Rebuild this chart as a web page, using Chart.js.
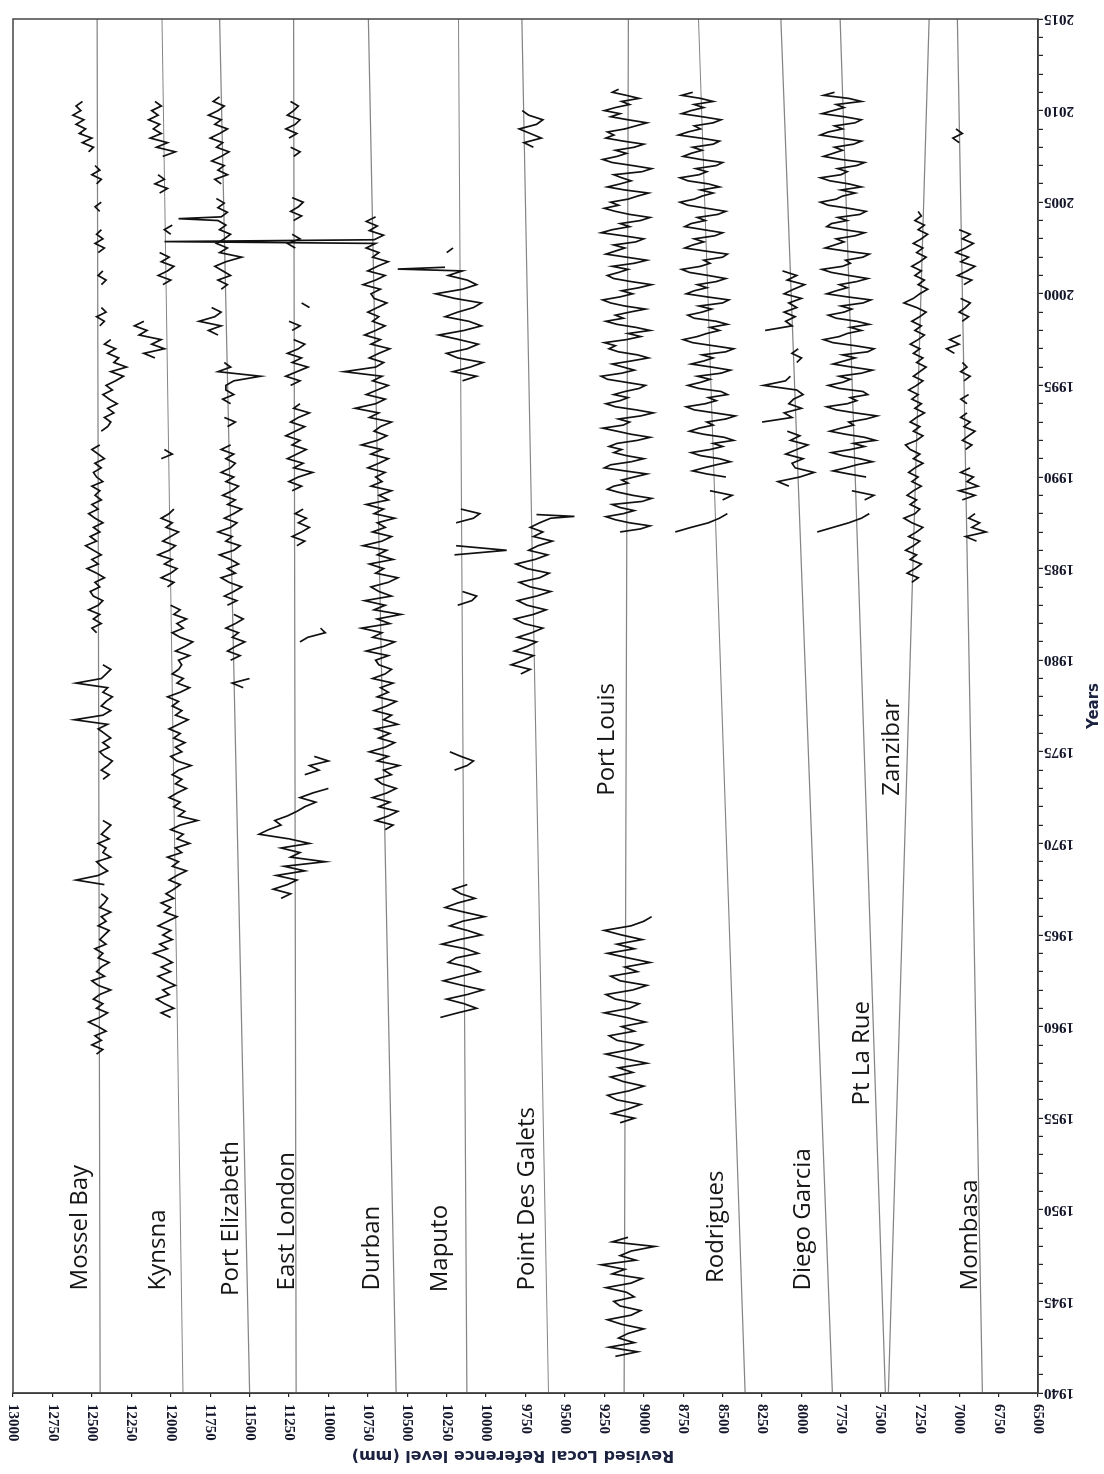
<!DOCTYPE html>
<html>
<head>
<meta charset="utf-8">
<title>Revised Local Reference level by station</title>
<script src="https://cdn.jsdelivr.net/npm/chart.js@4.4.1/dist/chart.umd.min.js"></script>
<style>
  html, body { margin: 0; padding: 0; background: #fff; overflow: hidden; }
  body { width: 1104px; height: 1474px; position: relative; }
  /* the plot is laid out landscape, then turned a quarter circle to stand upright */
  #frame { position: absolute; left: 0; top: 0; width: 1474px; height: 1104px;
           transform-origin: 0 0; transform: translate(0, 1474px) rotate(-90deg); }
</style>
</head>
<body>
<div id="frame"><canvas id="c" width="1474" height="1104"></canvas></div>
<script>
// ---- axis ranges and tick values ----
const yearTicks = [1940, 1945, 1950, 1955, 1960, 1965, 1970, 1975, 1980, 1985, 1990, 1995, 2000, 2005, 2010, 2015];
const levelTicks = [6500, 6750, 7000, 7250, 7500, 7750, 8000, 8250, 8500, 8750, 9000, 9250, 9500, 9750, 10000,
                    10250, 10500, 10750, 11000, 11250, 11500, 11750, 12000, 12250, 12500, 12750, 13000];

// ---- stations ----
const stations = ['Mossel Bay', 'Kynsna', 'Port Elizabeth', 'East London', 'Durban', 'Maputo', 'Point Des Galets',
                  'Port Louis', 'Rodrigues', 'Diego Garcia', 'Pt La Rue', 'Zanzibar', 'Mombasa'];

// linear trend of each record: level (mm) in 1940 and in 2015
const trend1940 = [12447, 11922, 11500, 11204, 10570, 10122, 9604, 9124, 8357, 7804, 7468, 7449, 6853];
const trend2015 = [12467, 12055, 11690, 11221, 10747, 10175, 9773, 9097, 8653, 8131, 7755, 7190, 7011];

// ---- sea levels (mm); each piece is [first year, values, step in years (quarterly if left out)] ----
const QUARTER = 0.25;
const BIMONTH = 1 / 6;

const mosselBay = [
  [1958.5, [12470,12430,12500,12440,12480,12410,12460,12520,12450,12400,12470,12430,12490,12450,12380,12460,12500,12420,
            12470,12440,12390,12460,12430,12480,12410,12450,12420,12390,12460,12410,12440,12380,12450,12420,12400,12440]],
  [1967.75, [12420,12600,12460,12400,12440,12470,12380,12430,12410,12460,12390,12440,12410,12380,12430]],
  [1973.5, [12430,12390,12440,12400,12370,12420,12450,12390,12430,12380,12420,12460,12400,12610,12430,12380,12440,12410,
            12370,12430,12400,12600,12440,12410,12380,12430]],
  [1981.5, [12470,12500,12440,12490,12450,12520,12460,12430,12490,12510,12450,12480,12420,12470,12530,12460,12500,12440,
            12490,12540,12470,12510,12450,12490,12430,12480,12520,12460,12500,12440,12480,12450,12500,12430,12470,12490,
            12440,12480,12420,12460,12500,12450]],
  [1992.5, [12440,12400,12380,12420,12360,12400,12340,12390,12430,12370,12410,12350,12300,12380,12280,12360,12330,12400,
            12350,12420,12380]],
  [1998.25, [12450,12420,12470,12410,12440]],
  [2000.5, [12440,12410,12460,12430]],
  [2002.25, [12460,12420,12480,12430,12470,12440]],
  [2004.5, [12450,12480,12440]],
  [2006.0, [12470,12440,12500,12450,12480]],
  [2007.75, [12520,12490,12560,12500,12580,12540,12600,12550,12620,12570,12600,12560]]
];

const kynsna = [
  [1960.5, [12000,12060,11980,12040,12090,12010,12050,11970,12030,12080,12000,12060,11990,12040,12110,12020,12070,11990,
            12050,12000,12080,12020,11960,12040,12000,12060,11980,12030,
            11980,11940,12010,11960,11900,11990,11950,12020,11930,11970,11880,11960,11920,12000,11940,11830,11950,11910,
            11980,11940,12010,11960,11900,11970,11930,11990,11950,11870,11960,12000,11930,11970,11910,11980,11940,12010,
            11950,11890,11970,11930,11990,11950,12020,11940,11880,11960,11920,11990,11950,11930]],
  [1980.0, [11950,11880,11970,11910,11860,11940,11990,11920,11960,11900,11980,11940,12000]],
  [1984.0, [12020,11980,12060,12000,11960,12040,11990,12080,12010,11970,12050,12000,11950,12030,11990,12060,12010,11980]],
  [1991.0, [12060,11990,12040]],
  [1996.5, [12100,12170,12040,12120,12060]],
  [1997.75, [12200,12150,12230,12170]],
  [2000.5, [12050,12000,12080,12020,11980,12060,12010,12070]],
  [2003.25, [12000,12040,11990]],
  [2005.5, [12070,12020,12100,12040,12080]],
  [2007.5, [12050,11970,12090,12020,12130,12060,12110,12070,12140,12080,12120,12060,12100]]
];

const portElizabeth = [
  [1978.5, [11540,11610,11500]],
  [1980.0, [11620,11560,11640,11590,11530,11610,11570,11650,11590,11540,11600]],
  [1983.0, [11640,11580,11660,11600,11550,11630,11680,11590,11640,11570,11620,11690,11600,11560,11650,11610,11700,11620,
            11580,11660,11600,11550,11640,11590,11670,11610,11570,11650,11600,11680,11620,11590]],
  [1991.0, [11650,11600,11680,11620]],
  [1992.75, [11640,11590,11660]],
  [1994.0, [11620,11670,11600,11650]],
  [1995.0, [11650,11600,11430,11700,11620,11660]],
  [1997.75, [11700,11760,11680,11820,11720,11680,11740]],
  [2000.25, [11680,11640,11700,11620,11670,11720,11650,11550,11690,11640,11710,11660,11620,11690,11650,11700]],
  [2004.1, [11950]],
  [2004.2, [11680,11640,11700,11660,11710]],
  [2006.0, [11680,11720,11640,11700,11660,11740,11680,11630,11710,11670,11750,11690,11640,11720,11680,11760,11700,11660,
            11730,11690]]
];

const eastLondon = [
  [1967.0, [11300,11240,11350,11260,11200,11330,11150,11280,11020,11240,11180,11300,11120,11250,11440,11380,11300,11340,
            11260,11200,11150,11080,11180,11100,11000]],
  [1973.75, [11150,11060,11120,11000,11090]],
  [1981.0, [11180,11130,11020,11050]],
  [1986.25, [11200,11150,11230,11170,11120,11190,11140,11210,11160]],
  [1989.25, [11230,11170,11250,11190,11100,11220,11160,11260,11200,11140,11230,11180,11270,11210,11150,11240,11190,11120,
             11220,11180]],
  [1995.0, [11240,11180,11270,11200,11130,11230,11170,11260,11190,11150,11220]],
  [1998.0, [11230,11180,11250]],
  [1999.25, [11120,11170]],
  [2002.5, [11210,11260,11180,11230]],
  [2004.0, [11220,11170,11240,11190,11160,11230]],
  [2007.5, [11220,11180,11240]],
  [2008.5, [11250,11200,11270,11210,11180,11260,11220,11190,11240]]
];

const durban = [
  [1970.75, [10640,10590,10700,10620,10560,10680,10610,10720,10630,10570,10660,10700,10600,10650,10550,10690,10620,10740,
             10640,10580,10680,10610,10700,10560,10650,10600,10710,10630,10570,10690,10620,10670,10590,10720,10640,10600,
             10680,
             10700,10620,10760,10650,10580,10720,10660,10790,10610,10690,10540,10710,10640,10770,10600,10680,10730,10620,
             10560,10700,10650,10740,10590,10690,10630,10780,10660,10600,10720,10640,10690,10580,10710,10650,10760,10620,
             10680,10600,10730,10660,
             10700,10640,10750,10680,10620,10730,10660,10790,10690,10630,10710,10670,10600,10740,10680,10830,10700,10640,
             10760,10690,10620,10720,10660,10900,10700,10650,10740,10680,10610,10730,10670,10770,10700,10640,10720,10680,
             10750,10690,10630,10710,
             10730,10670,10780,10700,10640,10750,10690,10620,10720,10680,10760,10700]],
  [2002.85, [12040]],
  [2002.95, [10710,10650,10740,10690,10760,10700]]
];

const maputo = [
  [1960.5, [10290,10180,10060,10140,10250,10120,10020,10150,10270,10160,10040,10110,10240,10190,10050,10130,10280,10170,
            10030,10120,10230,10150,10010,10140,10260,10180,10070,10160,10210,10120]],
  [1974.0, [10200,10120,10080,10160,10230]],
  [1983.0, [10180,10090,10060,10150]],
  [1985.75, [10200,9870,10190]],
  [1987.5, [10190,10080,10040,10160]],
  [1995.25, [10150,10060,10210,10100,10020,10180,10250,10120,10050,10170,10300,10140,10030,10110,10260,10180,10080,10030,
             10200,10320,10150,10060,10120,10240,10150]],
  [2001.35, [10560]],
  [2001.45, [10260]],
  [2002.25, [10250,10210]]
];

const pointDesGalets = [
  [1979.25, [9780,9720,9840,9760,9700,9820,9740,9680,9800,9710,9640,9760,9820,9700,9620,9740,9800,9680,9590,9720,9790,
             9660,9600,9740,9810,9690,9610,9730,9670,9580,9700,9640,9720,9660,9590]],
  [1987.85, [9440]],
  [1987.95, [9680]],
  [2008.0, [9700,9760,9650,9720,9790,9680,9640,9730,9770]]
];

const portLouis = [
  [1942.0, [9180,9040,9220,9060,9160,9100,9000,9140,9230,9080,9020,9150,9190,9060,9110,9240,9080,9010,9200,9120,9270,
            9050,9150,9080,8930,9200,9100]],
  [1954.75, [9150,9060,9200,9100,9020,9170,9230,9090,9000,9130,9210,9070,9160,8980,9120,9240,9080,9010,9170,9220,9060,
             9140,8990,9110,9250,9090,9030,9180,9240,9070,8980,9150,9210,9040,9120,8960,9100,9230,9060,9170,9010,9140,
             9250,9080,9000,8950]],
  [1987.0, [9150,9020,8960,9090,9180,9240,9130,9060,9150,9200,9010,8950,9070,9160,9230,
            9190,9100,9140,9060,8980,9120,9250,9210,9080,9000,9110,9190,9140,9220,9170,
            9040,8960,9080,9170,9260,9130,9090,9160,9020,8940,9050,9180,9240,9150,9100,
            9190,9120,9030,8990,9110,9230,9270,9140,9060,9130,9200,9080,8970,9040,9160,
            9220,9180,9250,9110,9020,9100,8960,9050,9170,9240,9130,9180,9090,8990,9120,
            9210,9260,9150,9070,9140,9030,8950,9080,9190,9230,9160,9100,9200,9060,8980,
            9110,9240,9180,9120,9190,9050,9000,9130,9270,9200,9090,9150,9020,8960,9090,
            9180,9250,9160,9210,9100,9040,8970,9120,9230,9150,9080,9140,9190,9010,8950,
            9070,9200,9260,9170,9110,9180,9060,9000,9130,9240,9190,9230,9120,9050,8980,
            9100,9210,9150,9250,9180,9090,9140,9030,9110,9200,9160], BIMONTH]
];

const rodrigues = [
  [1987.0, [8800,8700,8590,8520,8470]],
  [1988.75, [8500,8440,8580]],
  [1990.0, [8480,8600,8690,8620,8540,8450,8520,8640,8700,8580,8500,8560,8430,8490,8620,
            8710,8650,8560,8600,8480,8420,8550,8680,8730,8610,8540,8590,8470,8510,8650,
            8720,8640,8580,8660,8510,8450,8570,8700,8620,8560,8630,8480,8430,8560,8690,
            8750,8660,8600,8520,8580,8470,8540,8680,8720,8630,8570,8650,8500,8460,8600,
            8730,8680,8600,8660,8540,8480,8590,8710,8760,8640,8580,8620,8500,8470,8610,
            8740,8690,8620,8680,8550,8500,8620,8740,8700,8610,8660,8530,8480,8600,8720,
            8770,8680,8630,8560,8640,8520,8590,8720,8770,8650,8600,8670,8540,8500,8640,
            8750,8700,8630,8690,8560,8520,8640,8780,8720,8640,8680,8560,8510,8630,8760,
            8700,8620,8680,8560,8640,8760,8690], BIMONTH]
];

const diegoGarcia = [
  [1989.5, [8080,8150,8010,7920,8040]],
  [1990.75, [8060,7990,8100,8030,7960,8070,8010,8090]],
  [1993.0, [8250,8060,8110,8000,8080]],
  [1994.25, [8050,7990,8030]],
  [1995.0, [8240,8100,8070]],
  [1996.25, [8030,8000]],
  [1996.75, [8060,8020]],
  [1998.0, [8230,8060,8100,8040,8110,8030]],
  [1999.5, [8080,8000,8110,8050,7980,8090,8030,8120]]
];

const ptLaRue = [
  [1987.0, [7900,7800,7700,7620,7570]],
  [1988.75, [7600,7540,7680]],
  [1990.0, [7590,7700,7800,7720,7650,7550,7630,7740,7810,7690,7600,7670,7530,7600,7720,
            7820,7750,7670,7700,7590,7520,7660,7780,7840,7710,7650,7690,7580,7610,7760,
            7830,7740,7690,7760,7620,7550,7680,7800,7730,7660,7740,7580,7540,7660,7800,
            7860,7760,7710,7620,7690,7570,7650,7780,7830,7730,7680,7750,7610,7560,7710,
            7840,7780,7710,7760,7650,7580,7700,7810,7870,7740,7690,7720,7610,7570,7720,
            7850,7790,7730,7780,7660,7600,7730,7840,7810,7710,7770,7630,7590,7700,7830,
            7880,7780,7740,7660,7750,7620,7700,7820,7880,7750,7710,7770,7650,7600,7750,
            7860,7800,7740,7790,7670,7620,7750,7880,7830,7740,7790,7660,7620,7730,7870,
            7800,7730,7780,7620,7700,7860,7790], BIMONTH]
];

const zanzibar = [
  [1984.25, [7300,7260,7330,7280,7240,7310,7270,7340,7290,7250,7320,7270,7230,7300,7350,7280,7250,7310,7270,7330,7290,
             7240,7300,7260,7320,7280,7230,7290,7250,7310,7340,7270,7230,7290,7250,7310,7270,7220,7280,7240,7300,7260,
             7320,7270,7230,7290,7250,7210,7270,7230,7290,7250,7310,7260,7220,7280,7240,7300,7250,7210,7270,7350,7290,
             7250,7200,7260,7220,7280,7240,7300,7250,7210,7270,7230,7290,7240,7200,7260,7220,7280,7240,7260]]
];

const mombasa = [
  [1986.5, [6890,6960,6830,6920,6870,6940,6900]],
  [1988.75, [6980,6900,7000,6880,6950,6910,6990,6930]],
  [1991.5, [6960,6920,6980,6940,6900,6970,6930,6990,6950]],
  [1994.0, [6950,6990,6940]],
  [1995.25, [6970,6930,6990,6950,6980]],
  [1996.75, [7030,7080,7000,7060,6990]],
  [1998.5, [6980,6940,7000,6960,6930,6990]],
  [2000.5, [6970,6920,7010,6950,6900,6990,6940,7020,6960,6910,6980,6930,7000]],
  [2008.25, [7000,7040,6980,7020]]
];

const records = [mosselBay, kynsna, portElizabeth, eastLondon, durban, maputo, pointDesGalets,
                 portLouis, rodrigues, diegoGarcia, ptLaRue, zanzibar, mombasa];

// where each station name is written: starting year and baseline level (mm)
const nameYear  = [1945.6, 1945.6, 1945.3, 1945.6, 1945.6, 1945.5, 1945.6, 1972.6, 1946.0, 1945.6, 1955.7, 1972.6, 1945.6];
const nameLevel = [12529, 12034, 11572, 11217, 10678, 10247, 9695, 9188, 8497, 7945, 7571, 7381, 6886];

// turn the pieces of a record into points; pieces further apart than a sample are left unjoined
function toPoints(pieces) {
  const pts = [];
  let prevEnd = null;
  pieces.forEach(([start, vals, step = QUARTER]) => {
    if (prevEnd !== null && start - prevEnd > 0.3) {
      pts.push({ x: (prevEnd + start) / 2, y: null });
    }
    vals.forEach((v, i) => pts.push({ x: start + i * step, y: v }));
    prevEnd = start + (vals.length - 1) * step;
  });
  return pts;
}

const datasets = [];
stations.forEach((name, i) => {
  datasets.push({
    label: name + ' trend',
    data: [{ x: 1940, y: trend1940[i] }, { x: 2015, y: trend2015[i] }],
    borderColor: '#858585', borderWidth: 1.2, pointRadius: 0, order: 2
  });
  datasets.push({
    label: name,
    data: toPoints(records[i]),
    borderColor: '#111111', borderWidth: 1.7, pointRadius: 0, spanGaps: false, order: 1
  });
});

const serifBold = { family: '"Liberation Serif", "DejaVu Serif", serif', weight: 'bold', size: 15 };

// frame, level labels, axis titles and station names
const annotate = {
  id: 'annotate',
  afterDraw(chart) {
    const { ctx, chartArea: a, scales } = chart;
    const xs = scales.x, ys = scales.y;
    ctx.save();
    ctx.strokeStyle = '#444';
    ctx.lineWidth = 1.5;
    ctx.strokeRect(a.left, a.top, a.right - a.left, a.bottom - a.top);

    // level labels, turned half a circle
    ctx.font = 'bold 15px "Liberation Serif", "DejaVu Serif", serif';
    ctx.fillStyle = '#14162a';
    ctx.textAlign = 'left';
    ctx.textBaseline = 'middle';
    levelTicks.forEach(v => {
      ctx.save();
      ctx.translate(a.left - 11, ys.getPixelForValue(v));
      ctx.rotate(Math.PI);
      ctx.fillText(String(v), 0, 0);
      ctx.restore();
    });

    // axis titles
    ctx.fillStyle = '#1b2240';
    ctx.textAlign = 'center';
    ctx.font = 'bold 16px "DejaVu Sans", sans-serif';
    ctx.save();
    ctx.translate(19, 513);
    ctx.rotate(-Math.PI / 2);
    ctx.fillText('Revised Local Reference level (mm)', 0, 0);
    ctx.restore();
    ctx.font = 'bold 15px "DejaVu Sans", sans-serif';
    ctx.fillText('Years', (a.left + a.right) / 2, 1094);

    // station names
    ctx.font = '24px "Open Sans", "Noto Sans", sans-serif';
    ctx.fillStyle = '#151515';
    ctx.textAlign = 'left';
    ctx.textBaseline = 'alphabetic';
    stations.forEach((name, i) => {
      ctx.fillText(name, xs.getPixelForValue(nameYear[i]), ys.getPixelForValue(nameLevel[i]));
    });
    ctx.restore();
  }
};

new Chart(document.getElementById('c'), {
  type: 'line',
  data: { datasets },
  plugins: [annotate],
  options: {
    responsive: false,
    devicePixelRatio: 1,
    animation: false,
    events: [],
    layout: { padding: { left: 0, right: 7, top: 13, bottom: 0 } },
    elements: { line: { tension: 0 } },
    plugins: { legend: { display: false }, tooltip: { enabled: false } },
    scales: {
      x: {
        type: 'linear', min: 1940, max: 2015,
        afterFit(scale) { scale.height = 66; },
        grid: { drawOnChartArea: false, drawTicks: true, tickLength: 5, color: '#222', lineWidth: 1.2 },
        border: { display: true, color: '#222', width: 1.5 },
        ticks: {
          stepSize: 1, autoSkip: false, maxTicksLimit: 200, minRotation: 90, maxRotation: 90, padding: 1,
          font: serifBold, color: '#14162a',
          callback: v => (yearTicks.includes(Math.round(v)) ? String(Math.round(v)) : '')
        }
      },
      y: {
        type: 'linear', min: 6500, max: 13000,
        afterFit(scale) { scale.width = 81; },
        grid: { drawOnChartArea: false, drawTicks: true, tickLength: 4, color: '#222', lineWidth: 1.2 },
        border: { display: true, color: '#222', width: 1.5 },
        ticks: { stepSize: 250, autoSkip: false, maxTicksLimit: 100, display: false }
      }
    }
  }
});
</script>
</body>
</html>
